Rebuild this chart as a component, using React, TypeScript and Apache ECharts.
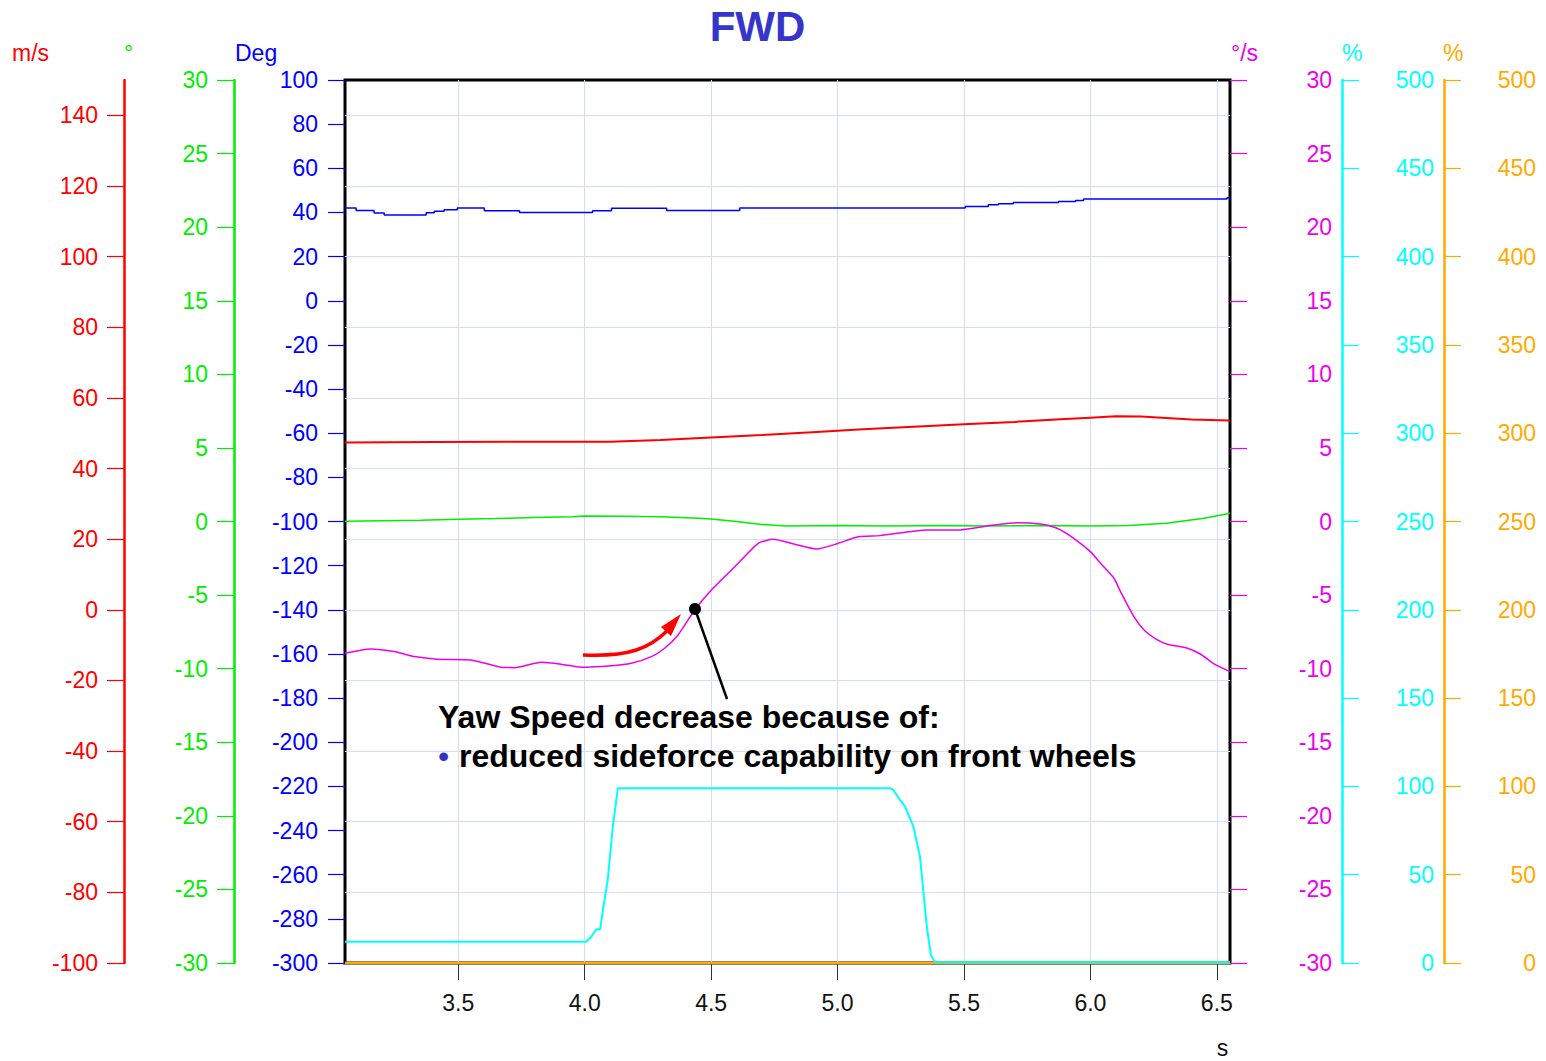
import { useEffect, useRef } from "react";
import * as echarts from "echarts";

// ---- tick values ----
const xTicks = [3.5, 4.0, 4.5, 5.0, 5.5, 6.0, 6.5];
const redTicks = [-100, -80, -60, -40, -20, 0, 20, 40, 60, 80, 100, 120, 140];

// ---- series (time in s) ----
// Blue, Deg (step signal)
const blueT = [3.052, 3.096, 3.167, 3.207, 3.373, 3.405, 3.444, 3.496, 3.603, 3.742, 4.031, 4.106, 4.324, 4.613, 5.505, 5.596, 5.636, 5.695, 5.874, 5.941, 5.973, 6.54, 6.552];
const blueV = [42.0, 40.9, 39.7, 38.8, 39.9, 40.5, 41.2, 42.0, 40.8, 40.0, 40.8, 41.9, 40.9, 42.0, 42.7, 43.5, 43.9, 44.5, 45.0, 45.4, 46.1, 46.7, 46.7];

// Red, m/s
const redT = [3.052, 3.4, 3.8, 4.1, 4.3, 4.5, 4.7, 4.9, 5.1, 5.3, 5.5, 5.7, 5.9, 6.0, 6.1, 6.2, 6.3, 6.4, 6.552];
const redV = [47.4, 47.5, 47.6, 47.6, 48.1, 48.8, 49.5, 50.3, 51.1, 51.8, 52.5, 53.2, 54.0, 54.4, 54.8, 54.7, 54.3, 53.9, 53.6];

// Green, °
const greenT = [3.052, 3.2, 3.35, 3.5, 3.65, 3.8, 3.95, 4.0, 4.15, 4.3, 4.45, 4.5, 4.6, 4.7, 4.8, 5.0, 5.2, 5.4, 5.6, 5.8, 6.0, 6.15, 6.3, 6.45, 6.552];
const greenV = [0.02, 0.05, 0.08, 0.15, 0.2, 0.27, 0.33, 0.37, 0.35, 0.33, 0.22, 0.17, 0.0, -0.2, -0.3, -0.28, -0.3, -0.27, -0.3, -0.28, -0.3, -0.27, -0.12, 0.22, 0.56];

// Magenta, °/s
const magT = [3.052, 3.154, 3.246, 3.325, 3.418, 3.55, 3.669, 3.722, 3.828, 3.907, 3.986, 4.105, 4.184, 4.264, 4.316, 4.369, 4.435, 4.501, 4.607, 4.686, 4.745, 4.831, 4.917, 5.003, 5.082, 5.168, 5.353, 5.472, 5.617, 5.71, 5.802, 5.868, 5.934, 6.0, 6.04, 6.093, 6.119, 6.172, 6.212, 6.265, 6.304, 6.384, 6.436, 6.489, 6.551];
const magV = [-8.95, -8.66, -8.84, -9.18, -9.36, -9.41, -9.9, -9.93, -9.57, -9.7, -9.9, -9.8, -9.63, -9.18, -8.61, -7.71, -6.01, -4.65, -2.84, -1.48, -1.21, -1.55, -1.87, -1.48, -1.03, -0.96, -0.58, -0.58, -0.24, -0.08, -0.17, -0.46, -1.14, -2.05, -2.84, -3.86, -4.77, -6.47, -7.37, -8.05, -8.34, -8.61, -9.02, -9.68, -10.2];

// Cyan, %
const cyanT = [3.052, 4.006, 4.026, 4.046, 4.061, 4.072, 4.091, 4.111, 4.131, 5.208, 5.221, 5.247, 5.267, 5.3, 5.326, 5.34, 5.353, 5.369, 5.386, 6.552];
const cyanV = [12, 12, 14.9, 19.1, 19.1, 30, 47, 77, 99, 99, 98, 92.3, 88.5, 77.2, 60.2, 39.5, 20.6, 4.5, 0.4, 0.4];

// Orange, %
const orangeT = [3.052, 6.552];
const orangeV = [0, 0];

const FONT = '"Liberation Sans", Arial, Helvetica, sans-serif';
const RED = "#ff0000";
const GREEN = "#00ee00";
const BLUE = "#0000ff";
const MAG = "#ee00ee";
const CYAN = "#00ffff";
const ORANGE = "#ffaa00";
const GRID = "#d3dbff";

function pairs(t: number[], v: number[]) {
  return t.map((x, i) => [x, v[i]]);
}

export default function App() {
  const ref = useRef<HTMLDivElement>(null);
  useEffect(() => {
    document.body.style.margin = "0";
    const chart = echarts.init(ref.current!, null, { renderer: "svg" });

    const yAxis = (o: any) => {
      const c = o.color;
      return {
        type: "value",
        position: o.position,
        offset: o.offset,
        min: o.min,
        max: o.max,
        interval: o.interval,
        axisLine: { show: o.line, onZero: false, lineStyle: { color: c, width: 2.5 } },
        axisTick: {
          show: true,
          inside: false,
          length: 17,
          lineStyle: { color: c, width: 1.2 },
          ...(o.custom ? { customValues: o.custom } : {}),
        },
        axisLabel: {
          color: c,
          fontSize: 23,
          fontFamily: FONT,
          margin: o.margin,
          align: o.align,
          ...(o.custom ? { customValues: o.custom } : {}),
        },
        splitLine: { show: !!o.split, lineStyle: { color: GRID, width: 1 } },
      };
    };

    const line = (name: string, data: any, color: string, yi: number, w: number, extra: any = {}) => ({
      name,
      type: "line",
      data,
      yAxisIndex: yi,
      showSymbol: false,
      symbol: "none",
      lineStyle: { color, width: w },
      itemStyle: { color },
      ...extra,
    });

    chart.setOption({
      animation: false,
      backgroundColor: "#ffffff",
      grid: {
        left: 345,
        right: 316,
        top: 80,
        bottom: 98,
        show: true,
        borderColor: "#000",
        borderWidth: 3,
        backgroundColor: "transparent",
        containLabel: false,
      },
      xAxis: {
        type: "value",
        min: 3.052,
        max: 6.552,
        axisLine: { show: false, onZero: false },
        axisTick: { show: true, length: 17, customValues: xTicks, lineStyle: { color: "#333", width: 1 } },
        axisLabel: {
          customValues: xTicks,
          color: "#111",
          fontSize: 23,
          fontFamily: FONT,
          margin: 28,
          formatter: (v: number) => v.toFixed(1),
        },
        splitLine: { show: true, lineStyle: { color: GRID, width: 1 } },
      },
      yAxis: [
        yAxis({ color: RED, position: "left", offset: 221, min: -100, max: 150, custom: redTicks, line: true, margin: 26, split: true }),
        yAxis({ color: GREEN, position: "left", offset: 111, min: -30, max: 30, interval: 5, line: true, margin: 26 }),
        yAxis({ color: BLUE, position: "left", offset: 0, min: -300, max: 100, interval: 20, line: false, margin: 27 }),
        yAxis({ color: MAG, position: "right", offset: 0, min: -30, max: 30, interval: 5, line: false, margin: 102, align: "right" }),
        yAxis({ color: CYAN, position: "right", offset: 112, min: 0, max: 500, interval: 50, line: true, margin: 92, align: "right" }),
        yAxis({ color: ORANGE, position: "right", offset: 214, min: 0, max: 500, interval: 50, line: true, margin: 92, align: "right" }),
      ],
      series: [
        line("orange", pairs(orangeT, orangeV), ORANGE, 5, 2.5),
        line("cyan", pairs(cyanT, cyanV), CYAN, 4, 2),
        line("green", pairs(greenT, greenV), GREEN, 1, 1.5),
        line("red", pairs(redT, redV), RED, 0, 2),
        line("blue", pairs(blueT, blueV), BLUE, 2, 1.5, { step: "end" }),
        line("magenta", pairs(magT, magV), MAG, 3, 1.5, { smooth: 0.2 }),
      ],
      graphic: [
        { type: "text", x: 757.5, y: 26, z: 100, style: { text: "FWD", fill: "#3535cc", font: `bold 42px ${FONT}`, align: "center", verticalAlign: "middle" } },
        { type: "text", x: 12, y: 53, z: 100, style: { text: "m/s", fill: RED, font: `23px ${FONT}`, align: "left", verticalAlign: "middle" } },
        { type: "text", x: 124, y: 53, z: 100, style: { text: "°", fill: GREEN, font: `23px ${FONT}`, align: "left", verticalAlign: "middle" } },
        { type: "text", x: 235, y: 53, z: 100, style: { text: "Deg", fill: BLUE, font: `23px ${FONT}`, align: "left", verticalAlign: "middle" } },
        { type: "text", x: 1231, y: 53, z: 100, style: { text: "°/s", fill: MAG, font: `23px ${FONT}`, align: "left", verticalAlign: "middle" } },
        { type: "text", x: 1342, y: 53, z: 100, style: { text: "%", fill: CYAN, font: `23px ${FONT}`, align: "left", verticalAlign: "middle" } },
        { type: "text", x: 1443, y: 53, z: 100, style: { text: "%", fill: ORANGE, font: `23px ${FONT}`, align: "left", verticalAlign: "middle" } },
        { type: "text", x: 1222.5, y: 1048, z: 100, style: { text: "s", fill: "#111", font: `23px ${FONT}`, align: "center", verticalAlign: "middle" } },
        // annotation
        { type: "bezierCurve", z: 100, shape: { x1: 583, y1: 655, cpx1: 630, cpy1: 657, cpx2: 650, cpy2: 648, x2: 668, y2: 630 }, style: { stroke: RED, lineWidth: 3.5, fill: null } },
        { type: "polygon", z: 100, shape: { points: [[681, 614], [661, 627], [671, 636]] }, style: { fill: RED } },
        { type: "line", z: 100, shape: { x1: 695, y1: 609, x2: 727, y2: 699 }, style: { stroke: "#000", lineWidth: 2.5 } },
        { type: "circle", z: 101, shape: { cx: 695, cy: 609, r: 6 }, style: { fill: "#000" } },
        { type: "text", x: 438, y: 717, z: 100, style: { text: "Yaw Speed decrease because of:", fill: "#000", font: `bold 32px ${FONT}`, align: "left", verticalAlign: "middle" } },
        { type: "text", x: 438, y: 756, z: 100, style: { text: "•", fill: "#3333cc", font: `32px ${FONT}`, align: "left", verticalAlign: "middle" } },
        { type: "text", x: 459, y: 756, z: 100, style: { text: "reduced sideforce capability on front wheels", fill: "#000", font: `bold 32px ${FONT}`, align: "left", verticalAlign: "middle" } },
      ],
    });
    return () => chart.dispose();
  }, []);
  return (
    <div
      ref={ref}
      style={{ position: "fixed", left: 0, top: 0, width: 1546, height: 1061, background: "#fff" }}
    />
  );
}
